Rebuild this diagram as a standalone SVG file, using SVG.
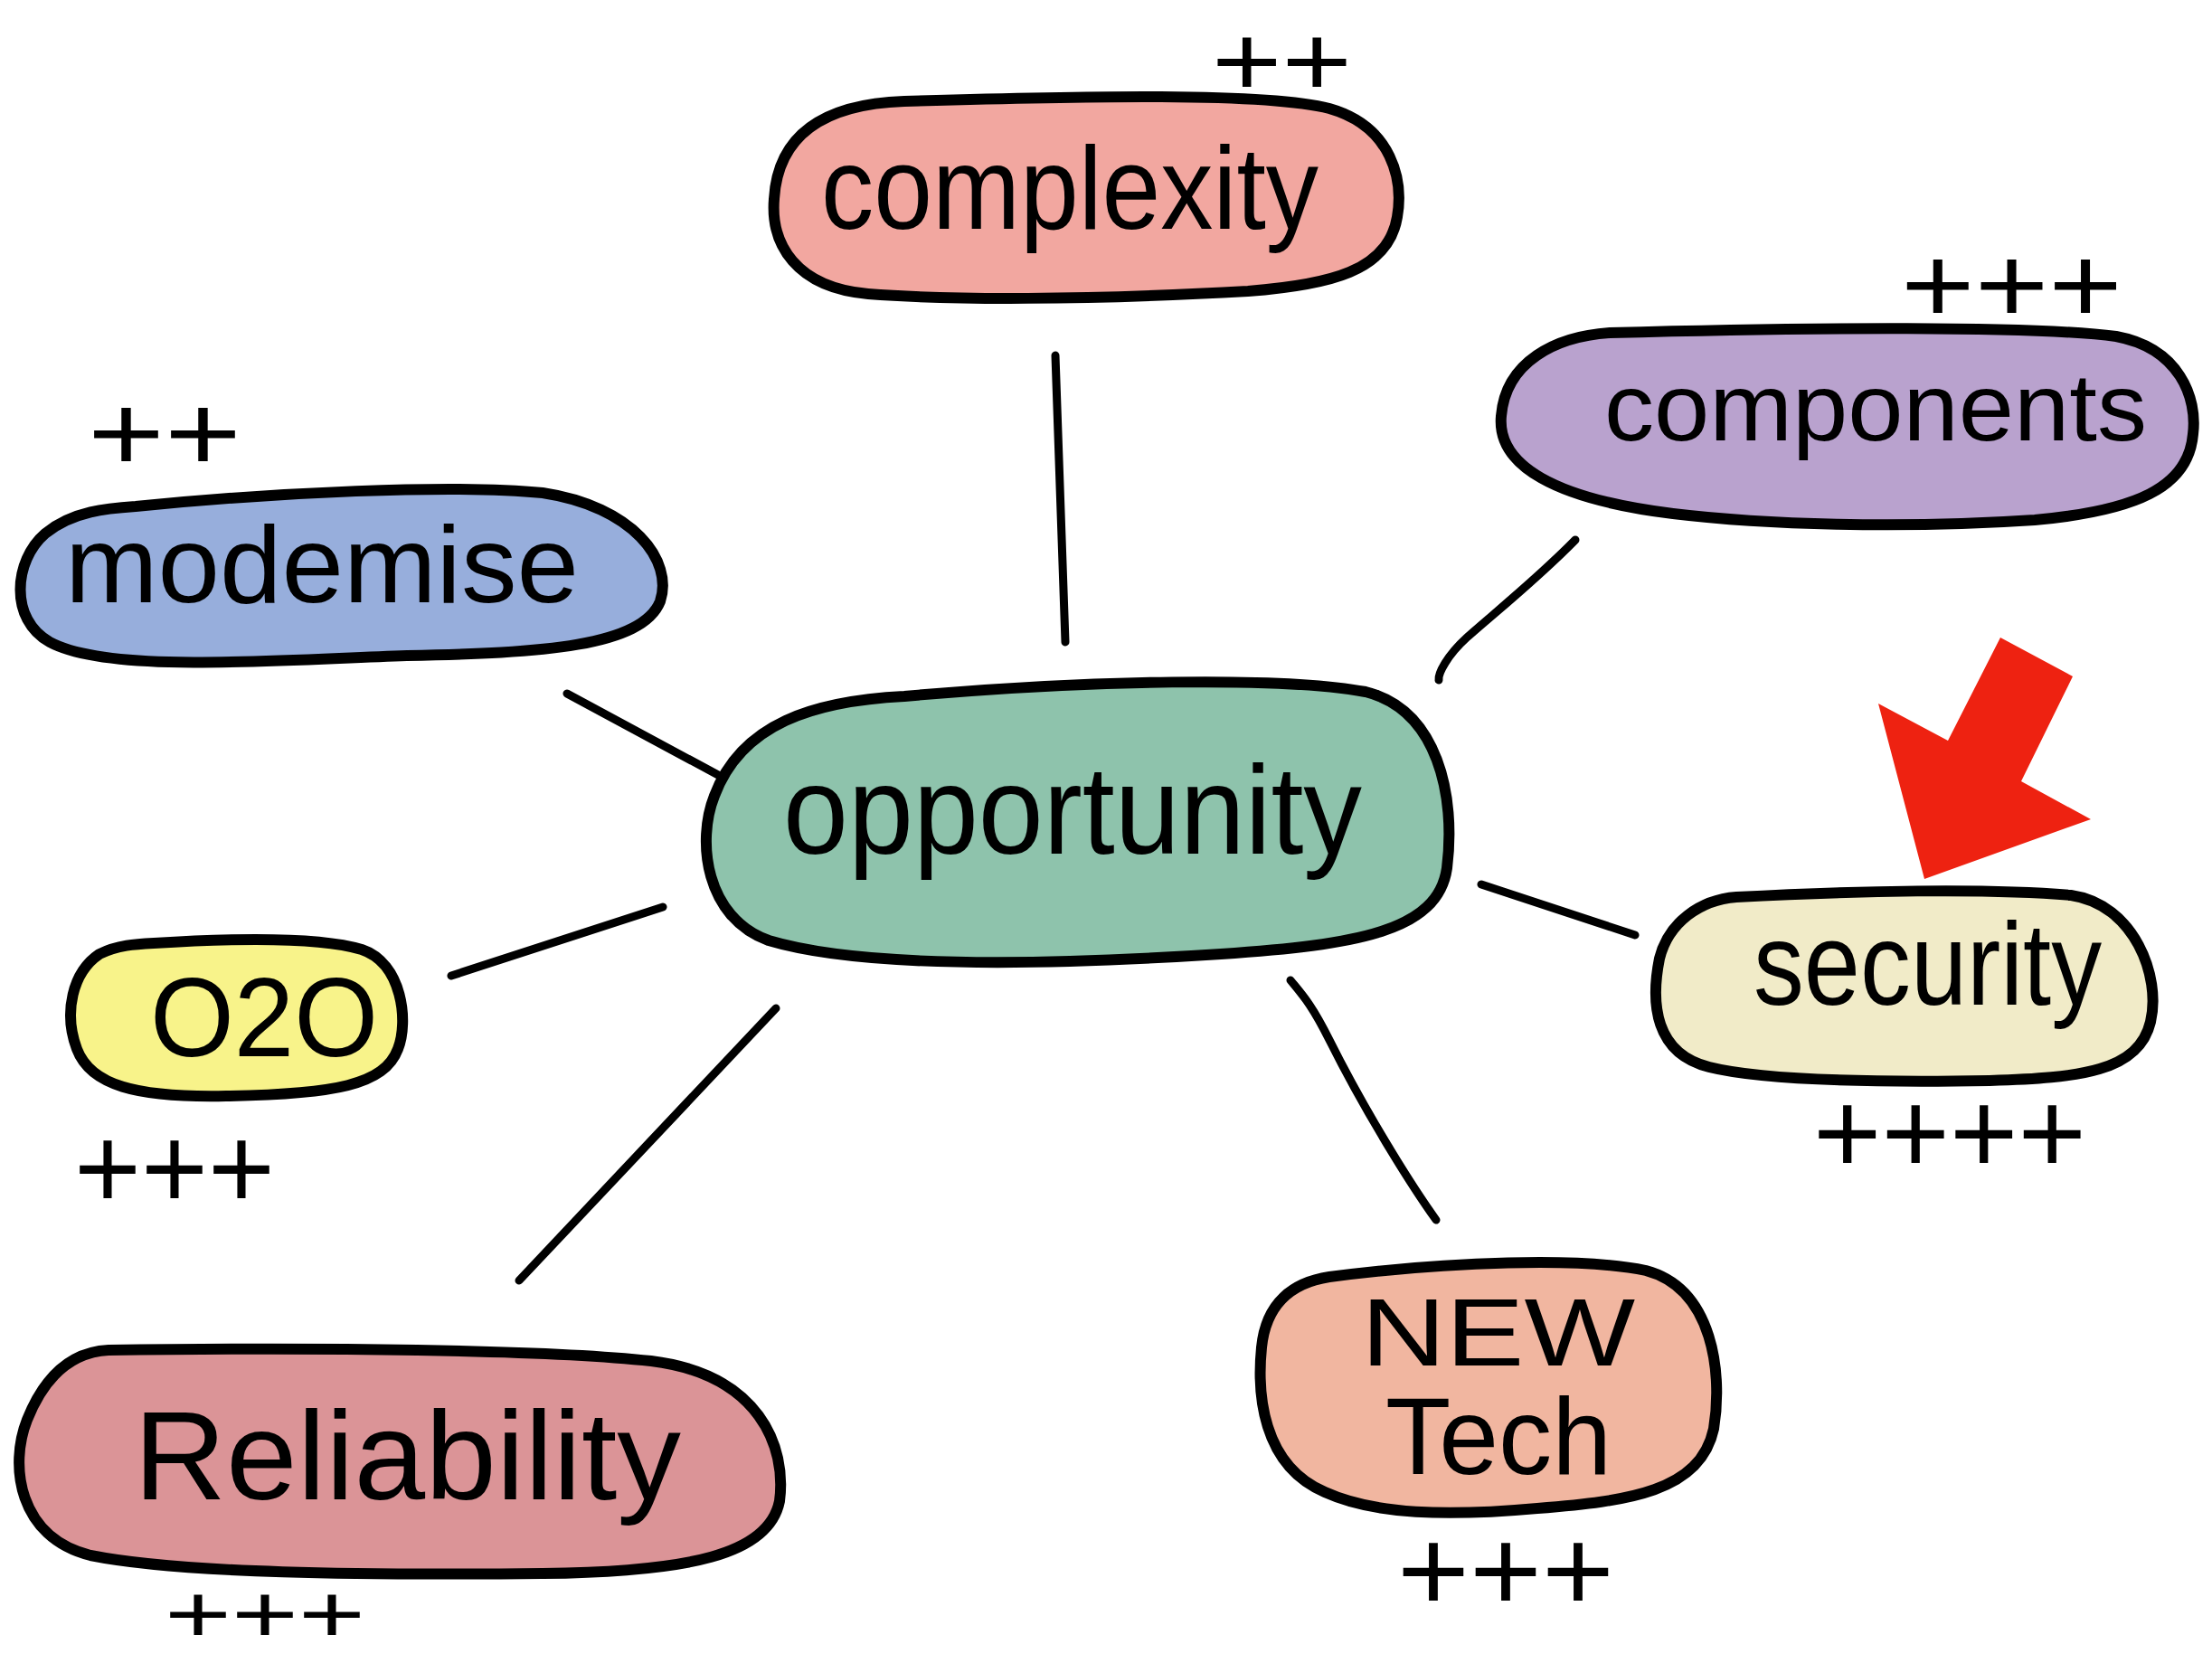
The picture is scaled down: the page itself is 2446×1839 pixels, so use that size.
<svg xmlns="http://www.w3.org/2000/svg" width="2446" height="1839" viewBox="0 0 2446 1839">
<style>
.pill{stroke:#000;stroke-width:12;stroke-linejoin:round}
.lbl{font-family:"Liberation Sans","DejaVu Sans",sans-serif;fill:#000}
.plus{font-family:"Liberation Sans","DejaVu Sans",sans-serif;fill:#000}
.conn{stroke:#000;stroke-width:9;stroke-linecap:round;fill:none}
</style>
<rect width="2446" height="1839" fill="#fff"/>
<g id="connectors">
<line class="conn" x1="1167" y1="393" x2="1178" y2="710"/>
<path class="conn" d="M1742,597 C1700,640 1650,680 1622,705 C1600,725 1590,745 1591,752"/>
<line class="conn" x1="627" y1="767" x2="796" y2="858"/>
<line class="conn" x1="499" y1="1079" x2="733" y2="1003"/>
<line class="conn" x1="858" y1="1115" x2="574" y2="1416"/>
<path class="conn" d="M1427,1084 C1440,1100 1450,1110 1470,1150 C1510,1230 1560,1310 1588,1349"/>
<line class="conn" x1="1638" y1="978" x2="1808" y2="1034"/>
</g>
<g id="complexity">
<path class="pill" fill="#F2A7A0" d="M1000,112 C1200,106 1400,102 1470,120 C1540,140 1552,200 1545,240 C1535,300 1470,315 1380,322 C1200,332 1050,332 960,325 C880,318 852,270 856,220 C860,150 910,115 1000,112 Z"/>
<text class="lbl" x="908" y="253" font-size="130" textLength="550" lengthAdjust="spacingAndGlyphs">complexity</text>
<text class="plus" x="1340" y="106" font-size="112" textLength="155" lengthAdjust="spacingAndGlyphs">++</text>
</g>
<g id="components">
<path class="pill" fill="#B9A2CE" d="M1780,368 C2000,362 2250,360 2340,372 C2410,385 2430,440 2425,480 C2420,540 2360,565 2250,575 C2100,585 1950,580 1850,568 C1720,552 1655,515 1660,460 C1665,400 1720,372 1780,368 Z"/>
<text class="lbl" x="1774" y="487" font-size="105" textLength="600" lengthAdjust="spacingAndGlyphs">components</text>
<text class="plus" x="2102" y="357" font-size="120" textLength="245" lengthAdjust="spacingAndGlyphs">+++</text>
</g>
<g id="modernise">
<path class="pill" fill="#97AEDC" d="M150,560 C300,545 500,535 600,545 C700,560 745,620 730,665 C710,715 600,722 450,725 C300,730 120,745 55,710 C10,685 15,620 50,590 C80,565 120,562 150,560 Z"/>
<text class="lbl" x="72" y="666" font-size="120" textLength="568" lengthAdjust="spacingAndGlyphs">modemise</text>
<text class="plus" x="97" y="521" font-size="120" textLength="170" lengthAdjust="spacingAndGlyphs">++</text>
</g>
<g id="opportunity">
<path class="pill" fill="#8EC3AC" d="M1000,770 C1200,752 1420,748 1510,765 C1590,785 1610,880 1600,960 C1590,1030 1500,1045 1350,1055 C1150,1068 950,1070 850,1040 C780,1015 770,930 790,880 C820,800 900,775 1000,770 Z"/>
<text class="lbl" x="866" y="944" font-size="140" textLength="640" lengthAdjust="spacingAndGlyphs">opportunity</text>
</g>
<g id="o2o">
<path class="pill" fill="#F8F38A" d="M170,1043 C250,1038 350,1035 400,1050 C445,1065 452,1130 440,1160 C425,1200 370,1210 250,1212 C150,1214 100,1200 85,1160 C70,1120 80,1075 110,1055 C130,1045 150,1044 170,1043 Z"/>
<text class="lbl" x="166" y="1168" font-size="125" textLength="252" lengthAdjust="spacingAndGlyphs">O2O</text>
<text class="plus" x="82" y="1336" font-size="130" textLength="222" lengthAdjust="spacingAndGlyphs">+++</text>
</g>
<g id="security">
<path class="pill" fill="#F1EBC8" d="M1920,992 C2050,985 2200,982 2290,990 C2360,1000 2390,1080 2378,1130 C2365,1185 2300,1192 2200,1195 C2080,1197 1950,1195 1890,1180 C1830,1165 1825,1110 1835,1060 C1845,1020 1880,995 1920,992 Z"/>
<text class="lbl" x="1939" y="1111" font-size="130" textLength="385" lengthAdjust="spacingAndGlyphs">security</text>
<text class="plus" x="2005" y="1297" font-size="130" textLength="302" lengthAdjust="spacingAndGlyphs">++++</text>
</g>
<g id="arrow">
<polygon fill="#EE2211" points="2212,705 2292,748 2235,864 2312,906 2128,972 2077,778 2154,819"/>
</g>
<g id="newtech">
<path class="pill" fill="#F1B6A0" d="M1470,1412 C1600,1395 1750,1390 1820,1405 C1895,1425 1905,1520 1895,1580 C1880,1650 1800,1660 1700,1668 C1600,1677 1520,1675 1465,1650 C1395,1620 1390,1540 1395,1490 C1400,1440 1430,1418 1470,1412 Z"/>
<text class="lbl" x="1505" y="1510" font-size="105" textLength="303" lengthAdjust="spacingAndGlyphs">NEW</text>
<text class="lbl" x="1532" y="1630" font-size="120" textLength="250" lengthAdjust="spacingAndGlyphs">Tech</text>
<text class="plus" x="1545" y="1781" font-size="130" textLength="240" lengthAdjust="spacingAndGlyphs">+++</text>
</g>
<g id="reliability">
<path class="pill" fill="#DB9497" d="M120,1493 C350,1490 600,1492 720,1505 C840,1520 870,1600 862,1660 C850,1720 760,1738 600,1740 C400,1742 200,1740 100,1720 C20,1700 10,1620 30,1570 C50,1520 80,1495 120,1493 Z"/>
<text class="lbl" x="148" y="1658" font-size="140" textLength="605" lengthAdjust="spacingAndGlyphs">Reliability</text>
<text class="plus" x="182" y="1816" font-size="90" textLength="222" lengthAdjust="spacingAndGlyphs">+++</text>
</g>
</svg>
